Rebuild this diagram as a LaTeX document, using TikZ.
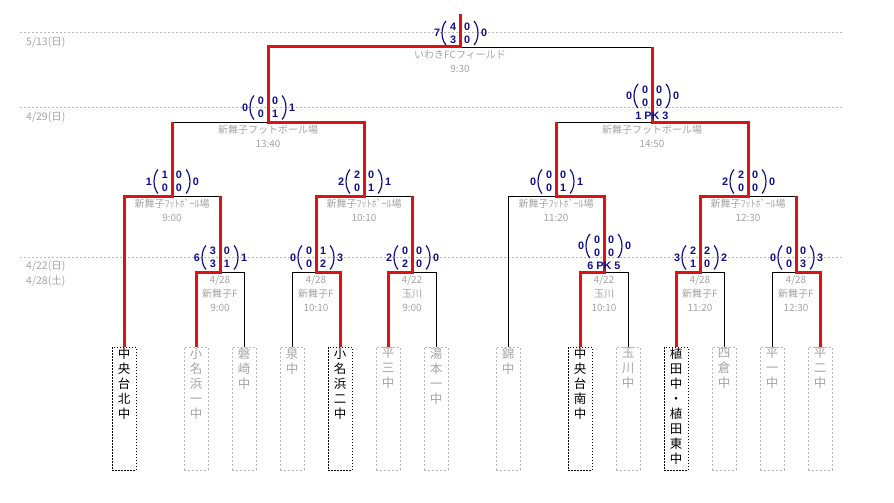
\documentclass[tikz,border=0pt]{standalone}
\usepackage{fontspec}
\newfontfamily\jp{Noto Sans CJK JP}
\newfontfamily\scf{Liberation Sans}
\usetikzlibrary{calc}
\definecolor{redc}{RGB}{222,18,18}
\definecolor{scblue}{RGB}{16,16,140}
\definecolor{gtext}{RGB}{165,165,165}
\definecolor{gline}{RGB}{185,185,185}
\newcommand\scoreblk[9]{%
 \node[sc] (#1L) at (#2-23,#3) {#4};
 \node[sc] (#1a) at (#2-7,#3-6.5) {#5};
 \node[sc] (#1b) at (#2-7,#3+6.5) {#6};
 \node[sc] (#1c) at (#2+7,#3-6.5) {#7};
 \node[sc] (#1d) at (#2+7,#3+6.5) {#8};
 \node[sc] (#1R) at (#2+24,#3) {#9};
 \draw[par] (#2-14,#3-12) .. controls (#2-19.3,#3-6) and (#2-19.3,#3+6) .. (#2-14,#3+12);
 \draw[par] (#2+14,#3-12) .. controls (#2+19.3,#3-6) and (#2+19.3,#3+6) .. (#2+14,#3+12);
}
\newcommand\venue[5]{%
 \node[ven] (#1v1) at (#2,#3+8) {#4};
 \node[ven] (#1v2) at (#2,#3+22) {#5};
}
\newcommand\venuethree[6]{%
 \node[ven] (#1v1) at (#2,#3+8) {#4};
 \node[ven] (#1v2) at (#2,#3+22) {#5};
 \node[ven] (#1v3) at (#2,#3+36) {#6};
}
\begin{document}
\begin{tikzpicture}[x=1pt,y=-1pt,
  win/.style={draw=redc,line width=3pt,line join=miter},
  lose/.style={draw=black,line width=0.8pt},
  sc/.style={font=\scf\bfseries\fontsize{10.8}{11}\selectfont,text=scblue,inner sep=0pt,anchor=center},
  par/.style={draw=scblue,line width=1.2pt},
  ven/.style={font=\jp\fontsize{10}{12}\selectfont,text=gtext,inner sep=0pt,anchor=center},
  teambox/.style={minimum width=24pt,minimum height=123pt,inner sep=0pt,draw=gline,dash pattern=on 2pt off 2pt,line width=0.8pt},
  hibox/.style={teambox,draw=black,dash pattern=on 1.5pt off 1.5pt,line width=1pt},
  tname/.style={font=\jp\fontsize{12.5}{15}\selectfont,text=gtext,align=center,inner sep=0pt,anchor=north},
  hiname/.style={tname,text=black},
  dayline/.style={draw=gline,line width=0.8pt,dash pattern=on 2pt off 2pt},
  day/.style={font=\jp\fontsize{10.5}{12}\selectfont,text=gtext,anchor=west,inner sep=0pt}]
\useasboundingbox (0,0) rectangle (894,503);
\fill[white] (0,0) rectangle (894,503);
% day lines
\draw[dayline] (20,32) -- (842,32);
\draw[dayline] (20,107) -- (842,107);
\draw[dayline] (20,257) -- (842,257);
\node[day] (d1) at (26,42) {5/13(日)};
\node[day] (d2) at (26,117) {4/29(日)};
\node[day] (d3) at (26,266) {4/22(日)};
\node[day] (d4) at (26,281) {4/28(土)};
% teams
\node[hibox] (t1) at (124,408.5) {};
\node[hiname] (n1) at ([yshift=-1.5pt]t1.north) {中\\央\\台\\北\\中};
\node[teambox] (t2) at (196,408.5) {};
\node[tname] (n2) at ([yshift=-1.5pt]t2.north) {小\\名\\浜\\一\\中};
\node[teambox] (t3) at (244,408.5) {};
\node[tname] (n3) at ([yshift=-1.5pt]t3.north) {磐\\崎\\中};
\node[teambox] (t4) at (292,408.5) {};
\node[tname] (n4) at ([yshift=-1.5pt]t4.north) {泉\\中};
\node[hibox] (t5) at (340,408.5) {};
\node[hiname] (n5) at ([yshift=-1.5pt]t5.north) {小\\名\\浜\\二\\中};
\node[teambox] (t6) at (388,408.5) {};
\node[tname] (n6) at ([yshift=-1.5pt]t6.north) {平\\三\\中};
\node[teambox] (t7) at (436,408.5) {};
\node[tname] (n7) at ([yshift=-1.5pt]t7.north) {湯\\本\\一\\中};
\node[teambox] (t8) at (508,408.5) {};
\node[tname] (n8) at ([yshift=-1.5pt]t8.north) {錦\\中};
\node[hibox] (t9) at (580,408.5) {};
\node[hiname] (n9) at ([yshift=-1.5pt]t9.north) {中\\央\\台\\南\\中};
\node[teambox] (t10) at (628,408.5) {};
\node[tname] (n10) at ([yshift=-1.5pt]t10.north) {玉\\川\\中};
\node[hibox] (t11) at (676,408.5) {};
\node[hiname] (n11) at ([yshift=-1.5pt]t11.north) {植\\田\\中\\・\\植\\田\\東\\中};
\node[teambox] (t12) at (724,408.5) {};
\node[tname] (n12) at ([yshift=-1.5pt]t12.north) {四\\倉\\中};
\node[teambox] (t13) at (772,408.5) {};
\node[tname] (n13) at ([yshift=-1.5pt]t13.north) {平\\一\\中};
\node[teambox] (t14) at (820,408.5) {};
\node[tname] (n14) at ([yshift=-1.5pt]t14.north) {平\\二\\中};
% junctions
\coordinate (r1a) at (220,272);
\coordinate (r1b) at (316,272);
\coordinate (r1c) at (412,272);
\coordinate (r1d) at (604,272);
\coordinate (r1e) at (700,272);
\coordinate (r1f) at (796,272);
\coordinate (r2a) at (172,196);
\coordinate (r2b) at (364,196);
\coordinate (r2c) at (556,196);
\coordinate (r2d) at (748,196);
\coordinate (r3a) at (268,122);
\coordinate (r3b) at (652,122);
\coordinate (f) at (460,47);
\coordinate (top) at (460,14);
% venues
\venue{f}{460}{47}{いわきFCフィールド}{9:30}
\venue{r3a}{268}{122}{新舞子フットボール場}{13:40}
\venue{r3b}{652}{122}{新舞子フットボール場}{14:50}
\venue{r2a}{172}{196}{新舞子ﾌｯﾄﾎﾞｰﾙ場}{9:00}
\venue{r2b}{364}{196}{新舞子ﾌｯﾄﾎﾞｰﾙ場}{10:10}
\venue{r2c}{556}{196}{新舞子ﾌｯﾄﾎﾞｰﾙ場}{11:20}
\venue{r2d}{748}{196}{新舞子ﾌｯﾄﾎﾞｰﾙ場}{12:30}
\venuethree{r1a}{220}{272}{4/28}{新舞子F}{9:00}
\venuethree{r1b}{316}{272}{4/28}{新舞子F}{10:10}
\venuethree{r1c}{412}{272}{4/22}{玉川}{9:00}
\venuethree{r1d}{604}{272}{4/22}{玉川}{10:10}
\venuethree{r1e}{700}{272}{4/28}{新舞子F}{11:20}
\venuethree{r1f}{796}{272}{4/28}{新舞子F}{12:30}
% losing lines
\draw[lose] (r1a) -| (t3.north);
\draw[lose] (r1b) -| (t4.north);
\draw[lose] (r1c) -| (t7.north);
\draw[lose] (r1d) -| (t10.north);
\draw[lose] (r1e) -| (t12.north);
\draw[lose] (r1f) -| (t13.north);
\draw[lose] (r2a) -- (r1a |- r2a);
\draw[lose] (r2b) -- (r1c |- r2b);
\draw[lose] (r2c) -| (t8.north);
\draw[lose] (r2d) -- (r1f |- r2d);
\draw[lose] (r3a) -- (r2a |- r3a);
\draw[lose] (r3b) -- (r2c |- r3b);
\draw[lose] (f) -- (r3b |- f);
% winning lines
\draw[win] (t5.north) |- (r1b) |- (r2b) |- (r3a) |- (f) -- (top);
\draw[win] (t1.north) |- (r2a) -- (r2a |- r3a);
\draw[win] (t2.north) |- (r1a) -- (r1a |- r2a);
\draw[win] (t6.north) |- (r1c) -- (r1c |- r2b);
\draw[win] (t9.north) |- (r1d) |- (r2c) -- (r2c |- r3b);
\draw[win] (t11.north) |- (r1e) |- (r2d) |- (r3b) -- (r3b |- f);
\draw[win] (t14.north) |- (r1f) -- (r1f |- r2d);
% scores
\scoreblk{sf}{460}{33}{7}{4}{3}{0}{0}{0}
\scoreblk{s3a}{268}{107.5}{0}{0}{0}{0}{1}{1}
\scoreblk{s3b}{652}{96}{0}{0}{0}{0}{0}{0}
\node[sc] (pk3b) at (652,116) {1 PK 3};
\scoreblk{s2a}{172}{181.5}{1}{1}{0}{0}{0}{0}
\scoreblk{s2b}{364}{181.5}{2}{2}{0}{0}{1}{1}
\scoreblk{s2c}{556}{181.5}{0}{0}{0}{0}{1}{1}
\scoreblk{s2d}{748}{181.5}{2}{2}{0}{0}{0}{0}
\scoreblk{s1a}{220}{257.5}{6}{3}{3}{0}{1}{1}
\scoreblk{s1b}{316}{257.5}{0}{0}{0}{1}{2}{3}
\scoreblk{s1c}{412}{257.5}{2}{0}{2}{0}{0}{0}
\scoreblk{s1d}{604}{246}{0}{0}{0}{0}{0}{0}
\node[sc] (pk1d) at (604,266) {6 PK 5};
\scoreblk{s1e}{700}{257.5}{3}{2}{1}{2}{0}{2}
\scoreblk{s1f}{796}{257.5}{0}{0}{0}{0}{3}{3}
\end{tikzpicture}
\end{document}
